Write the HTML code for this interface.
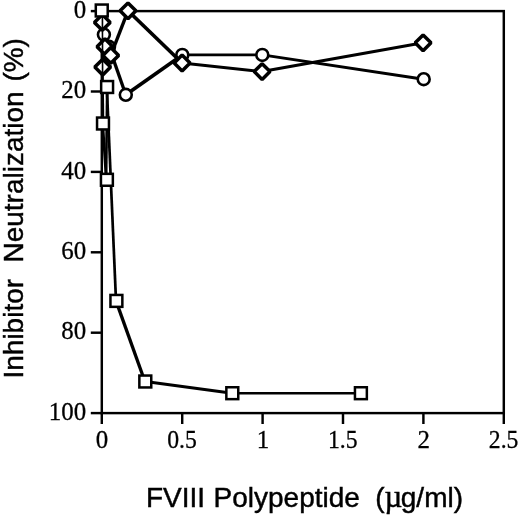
<!DOCTYPE html>
<html><head><meta charset="utf-8"><title>Figure</title>
<style>html,body{margin:0;padding:0;background:#fff}svg{display:block}.s{font-family:"Liberation Serif",serif;font-size:24.2px;fill:#000;stroke:#000;stroke-width:0.28px}.h{font-family:"Liberation Sans",sans-serif;font-size:28.5px;fill:#000;stroke:#000;stroke-width:0.45px}</style></head><body>
<svg xmlns="http://www.w3.org/2000/svg" width="520" height="515" viewBox="0 0 520 515">
<rect width="520" height="515" fill="#fff"/>
<g stroke="#000" stroke-width="2.45" fill="none" stroke-linecap="butt">
<rect x="101.80" y="11.10" width="402.00" height="402.00"/>
<line x1="90.8" y1="11.10" x2="101.80" y2="11.10"/>
<line x1="90.8" y1="91.50" x2="101.80" y2="91.50"/>
<line x1="90.8" y1="171.90" x2="101.80" y2="171.90"/>
<line x1="90.8" y1="252.30" x2="101.80" y2="252.30"/>
<line x1="90.8" y1="332.70" x2="101.80" y2="332.70"/>
<line x1="90.8" y1="413.10" x2="101.80" y2="413.10"/>
<line x1="101.80" y1="413.10" x2="101.80" y2="424"/>
<line x1="182.20" y1="413.10" x2="182.20" y2="424"/>
<line x1="262.60" y1="413.10" x2="262.60" y2="424"/>
<line x1="343.00" y1="413.10" x2="343.00" y2="424"/>
<line x1="423.40" y1="413.10" x2="423.40" y2="424"/>
<line x1="503.80" y1="413.10" x2="503.80" y2="424"/>
</g>
<g stroke="#000" fill="#fff" stroke-width="2.6">
<line x1="103.90" y1="34.60" x2="109.00" y2="46.85" stroke-width="3.40"/><line x1="109.00" y1="46.85" x2="125.80" y2="94.80" stroke-width="3.31"/><line x1="125.80" y1="94.80" x2="182.30" y2="54.90" stroke-width="3.62"/><line x1="182.30" y1="54.90" x2="262.30" y2="54.90" stroke-width="2.60"/><line x1="262.30" y1="54.90" x2="423.70" y2="79.20" stroke-width="2.96"/>
<line x1="101.75" y1="10.50" x2="103.00" y2="123.50" stroke-width="2.63"/>
<circle cx="103.90" cy="34.60" r="5.95"/>
<circle cx="109.00" cy="46.85" r="5.95"/>
<circle cx="125.80" cy="94.80" r="5.95"/>
<circle cx="182.30" cy="54.90" r="5.95"/>
<circle cx="262.30" cy="54.90" r="5.95"/>
<circle cx="423.70" cy="79.20" r="5.95"/>
</g>
<g stroke="#000" fill="#fff" stroke-width="3.5" stroke-linejoin="bevel">
<line x1="110.75" y1="55.40" x2="128.00" y2="10.80" stroke-width="3.36"/><line x1="128.00" y1="10.80" x2="182.10" y2="63.00" stroke-width="3.68"/><line x1="182.10" y1="63.00" x2="262.10" y2="71.60" stroke-width="2.86"/><line x1="262.10" y1="71.60" x2="423.10" y2="42.80" stroke-width="3.02"/>
<path d="M94.80 67.10L102.70 59.20L110.60 67.10L102.70 75.00Z"/>
<path d="M94.40 22.40L102.30 14.50L110.20 22.40L102.30 30.30Z"/>
<path d="M97.00 46.70L104.90 38.80L112.80 46.70L104.90 54.60Z"/>
<path d="M102.85 55.40L110.75 47.50L118.65 55.40L110.75 63.30Z"/>
<path d="M120.10 10.80L128.00 2.90L135.90 10.80L128.00 18.70Z"/>
<path d="M174.20 63.00L182.10 55.10L190.00 63.00L182.10 70.90Z"/>
<path d="M254.20 71.60L262.10 63.70L270.00 71.60L262.10 79.50Z"/>
<path d="M415.20 42.80L423.10 34.90L431.00 42.80L423.10 50.70Z"/>
</g>
<line x1="102.4" y1="12" x2="102.6" y2="80" stroke="#000" stroke-width="1.6"/>
<g stroke="#000" fill="#fff" stroke-width="2.5">
<line x1="102.70" y1="123.50" x2="106.30" y2="179.80" stroke-width="2.76"/><line x1="106.30" y1="179.80" x2="106.10" y2="179.80" stroke-width="2.60"/><line x1="106.10" y1="179.80" x2="107.20" y2="87.00" stroke-width="2.63"/><line x1="107.20" y1="87.00" x2="106.80" y2="87.00" stroke-width="2.60"/><line x1="106.80" y1="87.00" x2="116.00" y2="300.90" stroke-width="2.71"/>
<line x1="116.00" y1="300.90" x2="144.90" y2="381.50" stroke-width="3.32"/>
<line x1="145.30" y1="381.50" x2="232.30" y2="393.20" stroke-width="2.92"/><line x1="232.30" y1="393.20" x2="360.90" y2="393.20" stroke-width="2.60"/>
<rect x="95.80" y="4.55" width="11.90" height="11.90"/>
<rect x="97.05" y="117.55" width="11.90" height="11.90"/>
<rect x="100.95" y="173.85" width="11.90" height="11.90"/>
<rect x="101.15" y="81.05" width="11.90" height="11.90"/>
<rect x="110.45" y="294.95" width="11.90" height="11.90"/>
<rect x="139.35" y="375.55" width="11.90" height="11.90"/>
<rect x="226.35" y="387.25" width="11.90" height="11.90"/>
<rect x="354.95" y="387.25" width="11.90" height="11.90"/>
</g>
<text class="s" transform="translate(86.1 17.70) scale(1.03 1)" text-anchor="end">0</text>
<text class="s" transform="translate(86.1 98.10) scale(1.03 1)" text-anchor="end">20</text>
<text class="s" transform="translate(86.1 178.50) scale(1.03 1)" text-anchor="end">40</text>
<text class="s" transform="translate(86.1 258.90) scale(1.03 1)" text-anchor="end">60</text>
<text class="s" transform="translate(86.1 339.30) scale(1.03 1)" text-anchor="end">80</text>
<text class="s" transform="translate(86.1 419.70) scale(1.03 1)" text-anchor="end">100</text>
<text class="s" transform="translate(102.10 447.8) scale(1.03 1)" text-anchor="middle">0</text>
<text class="s" transform="translate(182.00 447.8) scale(0.98 1)" text-anchor="middle">0.5</text>
<text class="s" transform="translate(262.90 447.8) scale(1.03 1)" text-anchor="middle">1</text>
<text class="s" transform="translate(342.80 447.8) scale(0.98 1)" text-anchor="middle">1.5</text>
<text class="s" transform="translate(423.70 447.8) scale(1.03 1)" text-anchor="middle">2</text>
<text class="s" transform="translate(503.60 447.8) scale(0.98 1)" text-anchor="middle">2.5</text>
<text class="h" transform="translate(145.9 506.8) scale(0.982 1)">FVIII</text>
<text class="h" transform="translate(213.6 506.8) scale(0.982 1)">Polypeptide</text>
<text class="h" transform="translate(375.2 506.8) scale(0.982 1)">(<tspan font-family="Liberation Serif,serif" font-size="31.4">µ</tspan><tspan dx="-1.5">g/ml)</tspan></text>
<g transform="translate(23.3 0) rotate(-90)">
<text class="h" transform="translate(-378.5 0) scale(0.982 1)">Inhibitor</text>
<text class="h" transform="translate(-262.5 0) scale(0.982 1)">Neutralization</text>
<text class="h" transform="translate(-81.6 0) scale(0.982 1)">(%)</text>
</g>
</svg></body></html>
